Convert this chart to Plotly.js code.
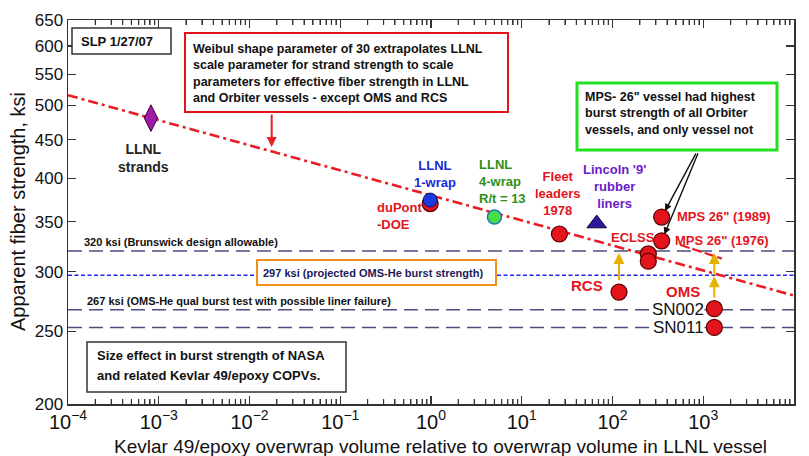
<!DOCTYPE html>
<html><head><meta charset="utf-8">
<script src="https://cdn.plot.ly/plotly-3.0.1.min.js"></script>
<style>html,body{margin:0;padding:0;background:#fff}</style>
</head><body>
<div id="chart" style="width:809px;height:456px"></div>
<script>
// ---------- data ----------
const xTickVals = [1e-4, 1e-3, 1e-2, 1e-1, 1, 1e1, 1e2, 1e3, 1e4];
const xLabelAlias = {'1': '10<sup>0</sup>', '10': '10<sup>1</sup>'};
const xMinorMultipliers = [2, 3, 4, 5, 6, 7, 8, 9];
const yTickVals = [200, 250, 300, 350, 400, 450, 500, 550, 600, 650];
const yTickText = ['200','250','300','350','400','450','500','550','600','650'];

const fullX = [1e-4, 1e4];
const brunswickY = 320;
const omsProjY = 297;
const omsQualY = 267;
const sn011LineY = 253;

const weibullX = [1e-4, 1e4];
const weibullY = [516, 279];
const mpsLineX = [555, 1600];
const mpsLineY = [326, 312.5];

const strandsX = [8.2e-4], strandsY = [481];
const dupontX = [0.98], dupontY = [370];
const llnl1X = [0.98], llnl1Y = [374];
const llnl4X = [5.0], llnl4Y = [355];
const fleetX = [26], fleetY = [337];
const lincolnX = [67], lincolnY = [348];
const rcsX = [118], rcsY = [282];
const eclssX = [248, 248], eclssY = [317, 310];
const mpsX = [348, 348], mpsY = [355, 330];
const omsX = [1324, 1324], omsY = [268, 253];
const arrowTargetY = [318, 296];

// ---------- layout helpers ----------
const L = 68, R = 794, T = 20, B = 404;
const px = x => (x - L) / (R - L);
const py = y => (B - y) / (B - T);
const FONT = 'Arial, "Liberation Sans", sans-serif';
const lg = Math.log10;

const yLo = yTickVals[0], yHi = yTickVals[yTickVals.length - 1];
const yRange = [lg(yLo), lg(yHi)];
const xRange = [lg(xTickVals[0]), lg(xTickVals[xTickVals.length - 1])];
// minor log tick marks (axis decoration), ~5 px long, on bottom and top edges
const tickFactor = Math.pow(10, (yRange[1] - yRange[0]) * 5 / (B - T));
const minorTickX = [], minorTickY = [];
xTickVals.slice(0, -1).forEach(d => xMinorMultipliers.forEach(m => {
  const v = d * m;
  minorTickX.push(v, v, null, v, v, null);
  minorTickY.push(yLo, yLo * tickFactor, null, yHi / tickFactor, yHi, null);
}));

function txt(text, x, y, o) {
  o = o || {};
  return Object.assign({
    text: text, xref: 'paper', yref: 'paper', x: px(x), y: py(y),
    xanchor: o.xa || 'center', yanchor: 'middle', showarrow: false,
    align: o.align || 'center',
    font: {family: FONT, size: o.size || 13, color: o.color || '#111', weight: o.bold === false ? 'normal' : 'bold'}
  }, o.extra || {});
}
function box(x0, y0, x1, y1, color, w) {
  return {type: 'rect', xref: 'paper', yref: 'paper', x0: px(x0), x1: px(x1), y0: py(y1), y1: py(y0),
    line: {color: color, width: w}, fillcolor: '#ffffff', layer: 'above'};
}

const RED = '#e3141c', REDLINE = '#5a0000';
const dashGrey = '#4d4d80';

const traces = [
  {x: minorTickX, y: minorTickY, mode: 'lines', line: {color: '#222', width: 1.2, simplify: false}, connectgaps: false},
  {x: fullX, y: [brunswickY, brunswickY], mode: 'lines', line: {color: dashGrey, width: 1.5, dash: '14px,7px'}},
  {x: fullX, y: [omsQualY, omsQualY], mode: 'lines', line: {color: dashGrey, width: 1.5, dash: '14px,7px'}},
  {x: fullX, y: [sn011LineY, sn011LineY], mode: 'lines', line: {color: dashGrey, width: 1.5, dash: '14px,7px'}},
  {x: fullX, y: [omsProjY, omsProjY], mode: 'lines', line: {color: '#2424ee', width: 1.6, dash: '4px,2.5px'}},
  {x: weibullX, y: weibullY, mode: 'lines', line: {color: '#e81e24', width: 2.6, dash: '10px,4px,3px,4px'}},
  {x: mpsLineX, y: mpsLineY, mode: 'lines', line: {color: '#e81e24', width: 2.2, dash: '10px,3px'}},
  {x: strandsX, y: strandsY, mode: 'markers', marker: {symbol: 'diamond-tall', size: 19, color: '#a01aa8', line: {color: '#3a003a', width: 1}}},
  {x: dupontX, y: dupontY, mode: 'markers', marker: {symbol: 'circle', size: 16, color: RED, line: {color: REDLINE, width: 1.2}}},
  {x: llnl1X, y: llnl1Y, mode: 'markers', marker: {symbol: 'circle', size: 14, color: '#1a3ae0', line: {color: '#101060', width: 1}}},
  {x: llnl4X, y: llnl4Y, mode: 'markers', marker: {symbol: 'circle', size: 14, color: '#48de48', line: {color: '#1a7ac0', width: 1.5}}},
  {x: fleetX, y: fleetY, mode: 'markers', marker: {symbol: 'circle', size: 16, color: RED, line: {color: REDLINE, width: 1.2}}},
  {x: lincolnX, y: lincolnY, mode: 'markers', marker: {symbol: 'triangle-up', size: 17, color: '#2a1a9a', line: {color: '#10083a', width: 1}}},
  {x: rcsX, y: rcsY, mode: 'markers', marker: {symbol: 'circle', size: 16, color: RED, line: {color: REDLINE, width: 1.2}}},
  {x: eclssX, y: eclssY, mode: 'markers', marker: {symbol: 'circle', size: 16, color: RED, line: {color: REDLINE, width: 1.2}}},
  {x: mpsX, y: mpsY, mode: 'markers', marker: {symbol: 'circle', size: 16, color: RED, line: {color: REDLINE, width: 1.2}}},
  {x: omsX, y: omsY, mode: 'markers', marker: {symbol: 'circle', size: 16, color: RED, line: {color: REDLINE, width: 1.2}}}
];

const YEL = '#e6b000';
function dataArrow(xv, yFrom, yTo, color) {
  return {xref: 'x', yref: 'y', axref: 'x', ayref: 'y', x: lg(xv), y: lg(yTo), ax: lg(xv), ay: lg(yFrom),
    text: '', showarrow: true, arrowhead: 2, arrowsize: 1.1, arrowwidth: 2, arrowcolor: color, startstandoff: 0};
}

const annotations = [
  txt('SLP 1/27/07', 79, 41, {xa: 'left', align: 'left', size: 13}),
  txt('Weibul shape parameter of 30 extrapolates LLNL<br>scale parameter for strand strength to scale<br>parameters for effective fiber strength in LLNL<br>and Orbiter vessels - except OMS and RCS', 191, 73.5, {xa: 'left', align: 'left', size: 12.5}),
  txt('MPS- 26" vessel had highest<br>burst strength of all Orbiter<br>vessels, and only vessel not', 583, 114, {xa: 'left', align: 'left', size: 12.5}),
  txt('297 ksi (projected OMS-He burst strength)', 373, 272.5, {size: 11, color: '#1a1a5a'}),
  txt('Size effect in burst strength of NASA', 95, 355, {xa: 'left', align: 'left', size: 13}),
  txt('and related Kevlar 49/epoxy COPVs.', 95, 375, {xa: 'left', align: 'left', size: 13}),
  txt('320 ksi (Brunswick design allowable)', 82, 242.5, {xa: 'left', size: 11}),
  txt('267 ksi (OMS-He qual burst test with possible liner failure)', 85, 301, {xa: 'left', size: 11}),
  txt('LLNL<br>strands', 143, 158, {size: 14, color: '#222'}),
  txt('LLNL<br>1-wrap', 435, 174, {size: 13, color: '#1a2ad8'}),
  txt('duPont<br>-DOE', 375, 216, {xa: 'left', align: 'left', size: 13, color: RED}),
  txt('LLNL<br>4-wrap<br>R/t = 13', 477.5, 181, {xa: 'left', align: 'left', size: 13, color: '#2f8f1a'}),
  txt('Fleet<br>leaders<br>1978', 558, 193, {size: 13, color: RED}),
  txt("Lincoln '9'<br>rubber<br>liners", 614, 186, {size: 13, color: '#6a20c8'}),
  txt('ECLSS', 632.5, 238, {size: 13, color: RED}),
  txt('MPS 26" (1989)', 675, 216.5, {xa: 'left', size: 13, color: RED}),
  txt('MPS 26" (1976)', 673, 240, {xa: 'left', size: 13, color: RED}),
  txt('RCS', 587, 285, {size: 15, color: RED}),
  txt('OMS', 683, 291, {size: 15, color: RED}),
  txt('SN002', 705, 309, {xa: 'right', size: 17, bold: false, color: '#111', extra: {bgcolor: '#ffffff', borderpad: 0}}),
  txt('SN011', 705, 327.5, {xa: 'right', size: 17, bold: false, color: '#111', extra: {bgcolor: '#ffffff', borderpad: 0}}),
  txt('Kevlar 49/epoxy overwrap volume relative to overwrap volume in LLNL vessel', 440.5, 446, {size: 19, bold: false, color: '#111'}),
  Object.assign(txt('Apparent fiber strength, ksi', 18, 212, {size: 20, bold: false, color: '#111'}), {textangle: -90}),
  dataArrow(rcsX[0], rcsY[0] * 1.032, arrowTargetY[0], YEL),
  dataArrow(omsX[0], omsY[0] * 1.03, arrowTargetY[1], YEL),
  dataArrow(omsX[0], arrowTargetY[1], arrowTargetY[0], YEL),
  {xref: 'x', yref: 'y', x: lg(mpsX[0]), y: lg(mpsY[0]), ax: 35, ay: -65, standoff: 7, text: '', showarrow: true,
    arrowhead: 2, arrowsize: 1, arrowwidth: 1.4, arrowcolor: '#111'},
  {xref: 'x', yref: 'y', x: lg(mpsX[1]), y: lg(mpsY[1]), ax: 37, ay: -89, standoff: 7, text: '', showarrow: true,
    arrowhead: 2, arrowsize: 1, arrowwidth: 1.4, arrowcolor: '#111'},
  {xref: 'paper', yref: 'paper', x: px(271.7), y: py(147), ax: 0, ay: -34, text: '', showarrow: true,
    arrowhead: 2, arrowsize: 1, arrowwidth: 2, arrowcolor: '#e81e24'}
];

const shapes = [
  box(72, 28, 171, 54, '#333333', 1.5),
  box(185, 33, 508, 112, '#e3141c', 2),
  box(577, 83, 777, 150, '#22e022', 3),
  box(257, 260, 496, 285, '#f0901a', 2),
  box(87, 342, 346, 392, '#333333', 1.5)
];

const layout = {
  width: 809, height: 456, margin: {l: L, r: 809 - R, t: T, b: 456 - B},
  paper_bgcolor: '#fff', plot_bgcolor: '#fff', showlegend: false,
  font: {family: FONT, color: '#111'},
  xaxis: {
    type: 'log', range: xRange, showgrid: false, zeroline: false, showline: true, linecolor: '#333', linewidth: 1.5,
    mirror: 'ticks', ticks: 'inside', ticklen: 8, tickwidth: 1.2, tickcolor: '#333',
    tickmode: 'linear', tick0: 0, dtick: 1, exponentformat: 'power', showexponent: 'all',
    labelalias: xLabelAlias, tickfont: {family: FONT, size: 16, color: '#111'},
    minor: {ticks: 'inside', ticklen: 5, tickwidth: 1, tickcolor: '#333', dtick: 'D1', showgrid: false}
  },
  yaxis: {
    type: 'log', range: yRange, showgrid: false, zeroline: false, showline: true, linecolor: '#333', linewidth: 1.5,
    mirror: 'ticks', ticks: 'inside', ticklen: 8, tickwidth: 1.2, tickcolor: '#333',
    tickmode: 'array', tickvals: yTickVals, ticktext: yTickText, tickfont: {family: FONT, size: 17, color: '#111'}
  },
  shapes: shapes,
  annotations: annotations
};

Plotly.newPlot('chart', traces, layout, {staticPlot: true, displayModeBar: false});
</script>
</body></html>
